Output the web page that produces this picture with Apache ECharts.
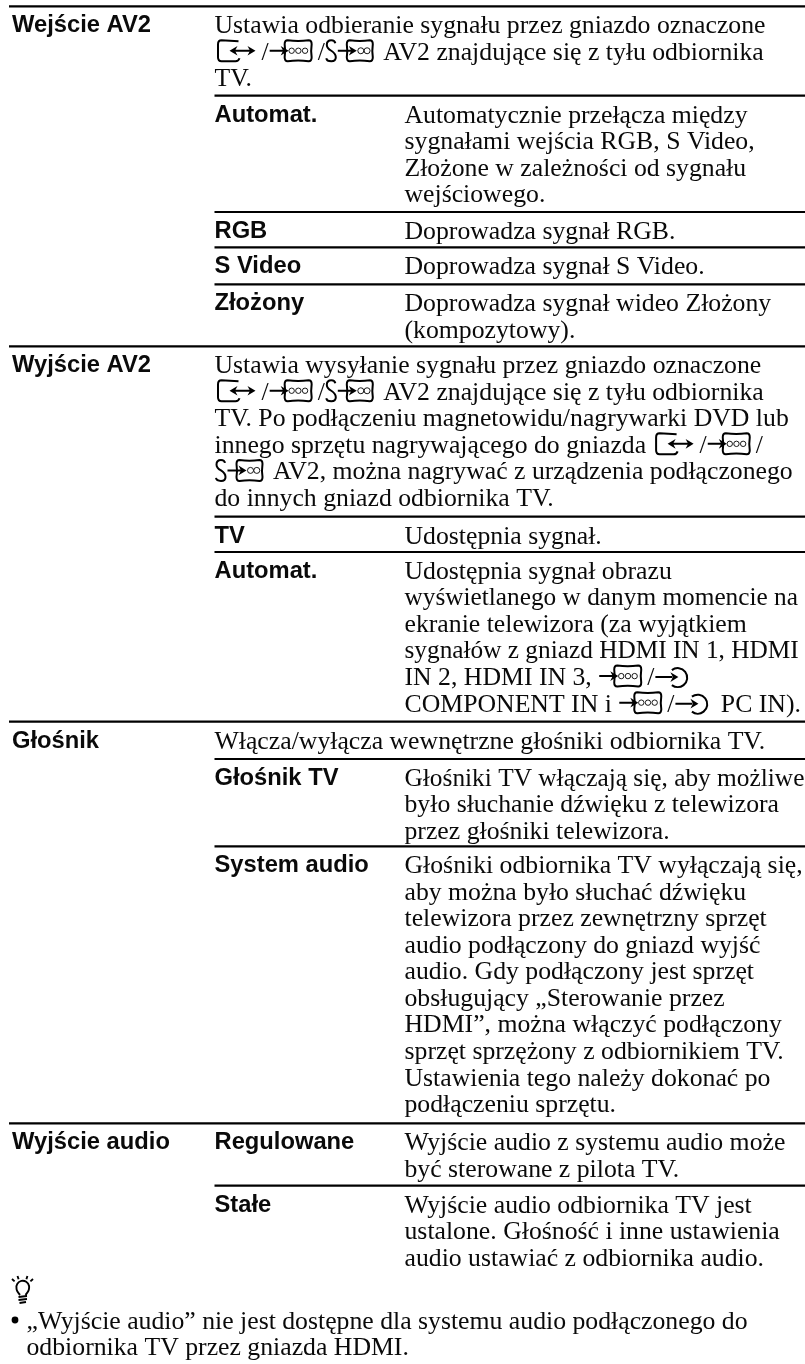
<!DOCTYPE html>
<html><head><meta charset="utf-8">
<style>html,body{margin:0;padding:0;background:#fff}#c{width:805px;height:1364px}</style>
<script src="https://cdn.jsdelivr.net/npm/echarts@6/dist/echarts.min.js"></script>
</head><body><div id="c"></div>
<script>
// ---- table content ----
const av2InIntro = ['Ustawia odbieranie sygnału przez gniazdo oznaczone','‹r›/‹v›/‹s› AV2 znajdujące się z tyłu odbiornika','TV.'];
const av2InAuto = ['Automatycznie przełącza między','sygnałami wejścia RGB, S Video,','Złożone w zależności od sygnału','wejściowego.'];
const av2InRgb = ['Doprowadza sygnał RGB.'];
const av2InSvideo = ['Doprowadza sygnał S Video.'];
const av2InComposite = ['Doprowadza sygnał wideo Złożony','(kompozytowy).'];
const av2OutIntro = ['Ustawia wysyłanie sygnału przez gniazdo oznaczone','‹r›/‹v›/‹s› AV2 znajdujące się z tyłu odbiornika','TV. Po podłączeniu magnetowidu/nagrywarki DVD lub','innego sprzętu nagrywającego do gniazda ‹r›/‹v›/','‹s› AV2, można nagrywać z urządzenia podłączonego','do innych gniazd odbiornika TV.'];
const av2OutTv = ['Udostępnia sygnał.'];
const av2OutAuto = ['Udostępnia sygnał obrazu','wyświetlanego w danym momencie na','ekranie telewizora (za wyjątkiem','sygnałów z gniazd HDMI IN 1, HDMI','IN 2, HDMI IN 3, ‹v›/‹c›','COMPONENT IN i ‹v›/‹c› PC IN).'];
const spkIntro = ['Włącza/wyłącza wewnętrzne głośniki odbiornika TV.'];
const spkTv = ['Głośniki TV włączają się, aby możliwe','było słuchanie dźwięku z telewizora','przez głośniki telewizora.'];
const spkSystem = ['Głośniki odbiornika TV wyłączają się,','aby można było słuchać dźwięku','telewizora przez zewnętrzny sprzęt','audio podłączony do gniazd wyjść','audio. Gdy podłączony jest sprzęt','obsługujący „Sterowanie przez','HDMI”, można włączyć podłączony','sprzęt sprzężony z odbiornikiem TV.','Ustawienia tego należy dokonać po','podłączeniu sprzętu.'];
const audioVar = ['Wyjście audio z systemu audio może','być sterowane z pilota TV.'];
const audioFixed = ['Wyjście audio odbiornika TV jest','ustalone. Głośność i inne ustawienia','audio ustawiać z odbiornika audio.'];
const tipLines = ['„Wyjście audio” nie jest dostępne dla systemu audio podłączonego do','odbiornika TV przez gniazda HDMI.'];

const sections = [
  ['Wejście AV2', av2InIntro, [['Automat.',av2InAuto],['RGB',av2InRgb],['S Video',av2InSvideo],['Złożony',av2InComposite]]],
  ['Wyjście AV2', av2OutIntro, [['TV',av2OutTv],['Automat.',av2OutAuto]]],
  ['Głośnik', spkIntro, [['Głośnik TV',spkTv],['System audio',spkSystem]]],
  ['Wyjście audio', null, [['Regulowane',audioVar],['Stałe',audioFixed]]]
];

// ---- page geometry ----
const COL = [12, 214.5, 404.5], RIGHT = 805, RULE_L = 9;
const RULE_Y = [6.3,95.7,212,247.3,284.3,346.3,516.7,552,721.7,759,846.3,1123.3,1185.7];
const FIRST = 24.4, PITCH = 26.55;
const SERIF = 25.5, SANS = 24;
const serifFont = SERIF + 'px "Liberation Serif"', sansFont = 'bold ' + SANS + 'px "Liberation Sans"';
const ctx = document.createElement('canvas').getContext('2d');
function tw(font, s){ ctx.font = font; return ctx.measureText(s).width; }
const serifScale = 551 / tw(serifFont, av2InIntro[0]);
const sansScale = 139 / tw(sansFont, 'Wejście AV2');
// lines that are set tighter in the page
const TIGHT = {'wyświetlanego w danym momencie na':0.983,'sygnałów z gniazd HDMI IN 1, HDMI':0.983,'Głośniki TV włączają się, aby możliwe':0.985};

const ICON_ADV = {r:47, v:49, s:52, c:40};
const texts = [], rules = [], icons = [];

function addLine(line, x, base){
  const parts = line.split(/(‹.›)/);
  let cx = x;
  parts.forEach(p => {
    if (!p) return;
    const m = p.match(/^‹(.)›$/);
    if (m) { icons.push([cx, base, m[1]]); cx += ICON_ADV[m[1]]; }
    else { texts.push([cx, base, p, 0]); cx += tw(serifFont, p) * serifScale; }
  });
}
let ri = 0;
sections.forEach(([label, intro, subs]) => {
  let y = RULE_Y[ri++];
  rules.push([RULE_L, y]);
  texts.push([COL[0], y + FIRST, label, 1]);
  let first = true;
  if (intro) {
    intro.forEach((l,i) => addLine(l, COL[1], y + FIRST + i*PITCH));
    first = false;
  }
  subs.forEach(([sl, lines]) => {
    if (!first) { y = RULE_Y[ri++]; rules.push([COL[1], y]); }
    first = false;
    texts.push([COL[1], y + FIRST, sl, 1]);
    lines.forEach((l,i) => addLine(l, COL[2], y + FIRST + i*PITCH));
  });
});
tipLines.forEach((l,i) => texts.push([26.5, 1326.5 + i*26.5, l, 0]));

// ---- icon shapes (origin = left edge on the text baseline) ----
function head(x, y, dir){ return `M${x} ${y}L${x-dir*8} ${y-4.8}L${x-dir*5.5} ${y}L${x-dir*8} ${y+4.8}Z`; }
const boxPath = (a,b) => `M${a+3} -17Q${(a+b)/2} -15.5 ${b-3} -17Q${b} -17 ${b} -13Q${b-1} -6 ${b} 0Q${b} 4 ${b-3} 4Q${(a+b)/2} 2.5 ${a+3} 4Q${a} 4 ${a} 0Q${a+1} -6 ${a} -13Q${a} -17 ${a+3} -17Z`;
const circle = (cx,cy,r) => `M${cx-r} ${cy}A${r} ${r} 0 1 1 ${cx+r} ${cy}A${r} ${r} 0 1 1 ${cx-r} ${cy}Z`;
const ICONS = {
  r:{stroke:'M24 -16L7 -17Q3.5 -17 3.5 -13L3.5 0Q3.5 4 7 4L21 4Q24 4 25 1M19 -6.5L37 -6.5', fill:head(41,-6.5,1)+head(15,-6.5,-1)},
  v:{stroke:'M1 -6.5L15 -6.5'+boxPath(16,43), fill:head(20,-6.5,1), thin:circle(23,-6.5,2.7)+circle(29.7,-6.5,2.7)+circle(36.4,-6.5,2.7)},
  s:{stroke:'M10.5 -14Q10 -17 6.5 -17Q2 -17 2 -12.5Q2 -9 6.5 -6.5Q11 -3.5 11 0Q11 4 6.5 4Q2 4 1.5 1M13 -6.5L27 -6.5'+boxPath(22,48), fill:head(32,-6.5,1), thin:circle(36,-6.5,3)+circle(42.3,-6.5,3)},
  c:{stroke:'M1 -5.5L18 -5.5M17.5 -12.5A9.5 9.5 0 1 1 17.5 2.5', fill:head(24,-5.5,1)}
};
const bulb = {
  stroke:'M20 1295Q16.5 1291 16.5 1288.5A6.4 6.4 0 1 1 29 1288.5Q29 1291 25.5 1295M12 1279L14.6 1281.4M17.5 1276L18.6 1279.2M27.4 1276L26.4 1279.2M33 1279L30.4 1281.4M18.5 1297L27 1296M18.5 1300L27 1299M19.5 1303L26 1302',
  fill:circle(15,1320,3.4)
};

const textData = texts.map((t,i) => [t[0], t[1], i]);
const ruleData = rules.map((r,i) => [r[0], r[1], i]);
const iconData = icons.map((c,i) => [c[0], c[1], i]);

const chart = echarts.init(document.getElementById('c'), null, {renderer:'canvas'});
chart.setOption({
  animation:false,
  backgroundColor:'#fff',
  grid:{left:0,top:0,right:0,bottom:0},
  xAxis:{type:'value',min:0,max:805,show:false},
  yAxis:{type:'value',min:0,max:1364,inverse:true,show:false},
  tooltip:{show:false},
  series:[
    {type:'custom',clip:false,silent:true,data:ruleData,encode:{x:0,y:1},
     renderItem(p,api){
       const a = api.coord([api.value(0),api.value(1)]), b = api.coord([RIGHT,api.value(1)]);
       return {type:'line',shape:{x1:a[0],y1:a[1],x2:b[0],y2:b[1]},style:{stroke:'#000',lineWidth:2.2}};
     }},
    {type:'custom',clip:false,silent:true,data:textData,encode:{x:0,y:1},
     renderItem(p,api){
       const t = texts[api.value(2)], c = api.coord([t[0],t[1]]), bold = t[3]===1;
       const fs = bold?SANS:SERIF;
       const sx = bold ? sansScale : serifScale * (TIGHT[t[2]] || 1);
       return {type:'text',x:c[0],y:Math.round(c[1]-(bold?0.22:0.18)*fs),scaleX:sx,
         style:{text:t[2],x:0,y:0,font:bold?sansFont:serifFont,fill:'#0a0a0a',textVerticalAlign:'middle',textAlign:'left'}};
     }},
    {type:'custom',clip:false,silent:true,data:iconData,encode:{x:0,y:1},
     renderItem(p,api){
       const c = api.coord([api.value(0),api.value(1)]), ic = ICONS[icons[api.value(2)][2]];
       const kids = [
         {type:'path',shape:{pathData:ic.stroke},style:{stroke:'#000',fill:null,lineWidth:2}},
         {type:'path',shape:{pathData:ic.fill},style:{fill:'#000'}}
       ];
       if (ic.thin) kids.push({type:'path',shape:{pathData:ic.thin},style:{stroke:'#000',fill:null,lineWidth:0.9}});
       return {type:'group',x:c[0],y:c[1],children:kids};
     }},
    {type:'custom',clip:false,silent:true,data:[[0,0]],encode:{x:0,y:1},
     renderItem(p,api){
       const c = api.coord([0,0]);
       return {type:'group',x:c[0],y:c[1],children:[
         {type:'path',shape:{pathData:bulb.stroke},style:{stroke:'#000',fill:null,lineWidth:1.9}},
         {type:'path',shape:{pathData:bulb.fill},style:{fill:'#000'}}
       ]};
     }}
  ]
});
</script></body></html>
